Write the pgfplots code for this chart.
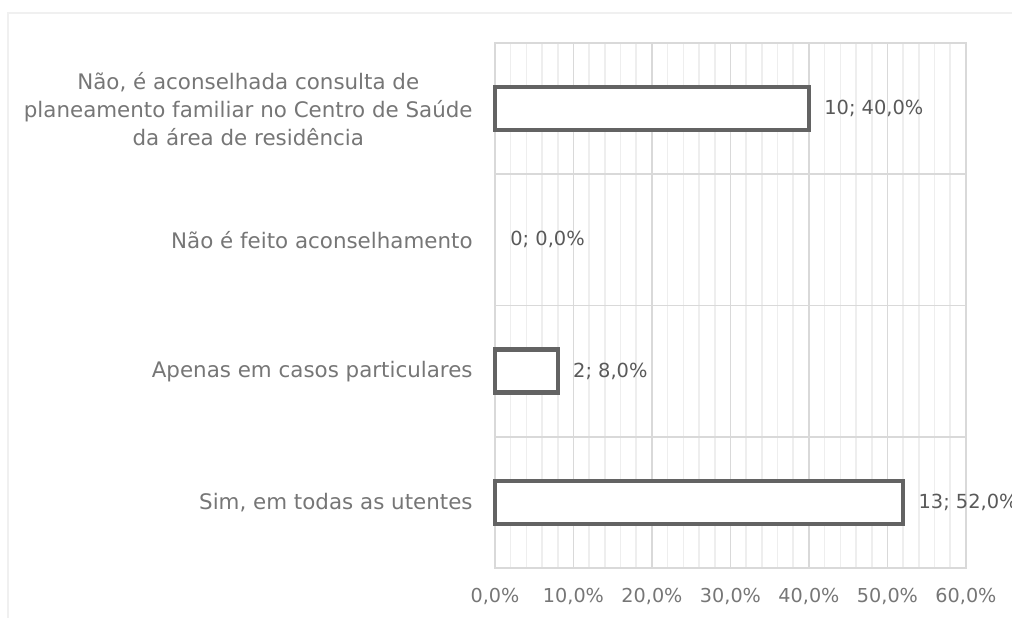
\documentclass[border=0pt]{standalone}
\usepackage{pgfplots}
\usepackage{pgfplotstable}
\pgfplotsset{compat=1.18}
\usepackage{fontspec}
\setmainfont{DejaVu Sans}
\definecolor{bargray}{HTML}{636363}
\definecolor{majgrid}{HTML}{D9D9D9}
\definecolor{mingrid}{HTML}{EEEEEE}
\definecolor{outer}{HTML}{F0F0F0}
\definecolor{labgray}{HTML}{767676}
\definecolor{datgray}{HTML}{595959}
\newcommand\semi{;}
\pgfplotstableread{
x y lab
52 0 {13\semi{} 52,0\%}
8 1 {2\semi{} 8,0\%}
0 2 {0\semi{} 0,0\%}
40 3 {10\semi{} 40,0\%}
}\labtable
\begin{document}
\begin{tikzpicture}[x=1pt,y=1pt]
\path[use as bounding box] (-247.5,-25) rectangle (258.5,284);
\draw[color=outer, line width=0.8pt] (-243.5,-25) -- (-243.5,277.5) -- (258.5,277.5);
\begin{axis}[
  at={(0,0)}, anchor=south west,
  scale only axis, width=235.5pt, height=262.5pt,
  xmin=0, xmax=60, ymin=-0.5, ymax=3.5,
  clip=false,
  axis line style={majgrid, line width=0.8pt},
  xtick={0,10,20,30,40,50,60},
  xticklabels={{0,0\%},{10,0\%},{20,0\%},{30,0\%},{40,0\%},{50,0\%},{60,0\%}},
  minor x tick num=4,
  xmajorgrids, xminorgrids,
  major grid style={majgrid, line width=0.8pt},
  minor grid style={mingrid, line width=0.8pt},
  ytick={0,1,2,3},
  yticklabels={{Sim, em todas as utentes},{Apenas em casos particulares},{Não é feito aconselhamento},{Não, é aconselhada consulta de\\planeamento familiar no Centro de Saúde\\da área de residência}},
  extra y ticks={0.5,1.5,2.5},
  extra y tick labels={},
  extra y tick style={ymajorgrids=true},
  major tick length=0pt, minor tick length=0pt,
  tick style={draw=none},
  xticklabel style={text=labgray, font=\fontsize{9.6}{12}\selectfont, inner sep=0pt, anchor=north, yshift=-10pt},
  yticklabel style={text=labgray, font=\fontsize{10.7}{14}\selectfont, align=center, inner sep=0pt, anchor=east, xshift=-11pt},
]
\addplot[xbar, bar width=21.5pt, draw=bargray, line width=2.25pt, fill=white]
  coordinates {(52,0) (8,1) (40,3)};
\addplot[draw=none, mark=none, nodes near coords, point meta=explicit symbolic,
  nodes near coords style={anchor=west, inner sep=0pt, xshift=7.5pt, text=datgray, font=\fontsize{9.7}{12}\selectfont}]
  table[x=x, y=y, meta=lab] {\labtable};
\end{axis}
\end{tikzpicture}
\end{document}
